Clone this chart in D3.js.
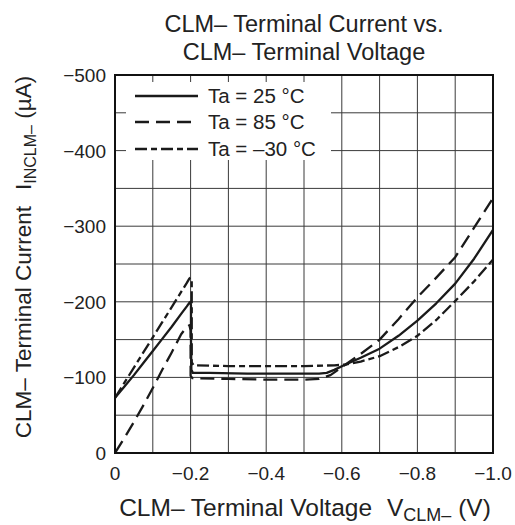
<!DOCTYPE html>
<html><head><meta charset="utf-8">
<script src="https://cdn.jsdelivr.net/npm/d3@7"></script>
<style>
html,body{margin:0;padding:0;background:#fff;}
svg{display:block;font-family:"Liberation Sans",Arial,Helvetica,sans-serif;}
</style></head>
<body>
<svg id="chart" width="515" height="525"></svg>
<script>
// ---- data (V in volts, I in µA) ----
const ta25V = [0,-0.025,-0.05,-0.075,-0.1,-0.125,-0.15,-0.175,-0.19,-0.197,-0.2,-0.201,-0.201,-0.202,-0.206,-0.25,-0.35,-0.45,-0.54,-0.56,-0.58,-0.61,-0.65,-0.7,-0.75,-0.8,-0.85,-0.9,-0.95,-1.0];
const ta25I = [-73,-88,-103,-119,-135,-151,-167,-184,-194,-199,-200,-195,-150,-110,-106,-106,-105,-105,-105,-106,-110,-117,-126,-138,-155,-175,-198,-224,-257,-295];

const ta85V = [0,-0.025,-0.05,-0.075,-0.1,-0.125,-0.15,-0.175,-0.19,-0.197,-0.2,-0.2,-0.205,-0.3,-0.4,-0.5,-0.54,-0.57,-0.61,-0.65,-0.7,-0.75,-0.8,-0.85,-0.9,-0.95,-1.0];
const ta85I = [0,-20,-41,-63,-86,-110,-133,-157,-167,-169,-162,-102,-99,-98,-97,-97,-98,-103,-117,-131,-150,-177,-206,-232,-259,-298,-337];

const taM30V = [0,-0.025,-0.05,-0.075,-0.1,-0.125,-0.15,-0.175,-0.19,-0.197,-0.2,-0.203,-0.203,-0.203,-0.208,-0.3,-0.4,-0.5,-0.58,-0.61,-0.65,-0.7,-0.75,-0.8,-0.85,-0.9,-0.95,-1.0];
const taM30I = [-73,-93,-113,-133,-153,-173,-193,-213,-225,-231,-232,-228,-200,-120,-116,-115,-115,-115,-116,-117,-121,-128,-140,-155,-176,-201,-227,-256];

const xTicks = [0,-0.2,-0.4,-0.6,-0.8,-1.0];
const xTickLabels = ["0","\u22120.2","\u22120.4","\u22120.6","\u22120.8","\u22121.0"];
const yTicks = [0,-100,-200,-300,-400,-500];
const yTickLabels = ["0","\u2212100","\u2212200","\u2212300","\u2212400","\u2212500"];
const xGrid = [-0.1,-0.2,-0.3,-0.4,-0.5,-0.6,-0.7,-0.8,-0.9];
const yGrid = [-50,-100,-150,-200,-250,-300,-350,-400,-450];
const legendLabels = ["Ta = 25 \u00B0C","Ta = 85 \u00B0C","Ta = \u201330 \u00B0C"];

// ---- layout ----
const L = 115, R = 493, T = 75, B = 453;
const svg = d3.select("#chart");
const x = d3.scaleLinear().domain([0,-1]).range([L,R]);
const y = d3.scaleLinear().domain([0,-500]).range([B,T]);

// grid
const g = svg.append("g");
g.selectAll(".gx").data(xGrid).join("line")
  .attr("x1",d=>x(d)).attr("x2",d=>x(d)).attr("y1",T).attr("y2",B)
  .attr("stroke","#3a3a3a").attr("stroke-width",1);
g.selectAll(".gy").data(yGrid).join("line")
  .attr("y1",d=>y(d)).attr("y2",d=>y(d)).attr("x1",L).attr("x2",R)
  .attr("stroke","#3a3a3a").attr("stroke-width",1);

// legend background (covers grid)
svg.append("rect").attr("x",126).attr("y",82).attr("width",205).attr("height",78).attr("fill","#fff");

// curves
const line = d3.line().x(d=>x(d[0])).y(d=>y(d[1]));
const series = [
  {v:ta25V, i:ta25I, dash:null},
  {v:ta85V, i:ta85I, dash:"14,7"},
  {v:taM30V, i:taM30I, dash:"12,4,6,4"}
];
svg.append("clipPath").attr("id","clip").append("rect")
  .attr("x",L).attr("y",T).attr("width",R-L).attr("height",B-T);
series.forEach(s=>{
  const pts = s.v.map((v,k)=>[v,s.i[k]]);
  svg.append("path").attr("d",line(pts)).attr("fill","none")
    .attr("stroke","#1a1a1a").attr("stroke-width",2.3)
    .attr("stroke-linejoin","round")
    .attr("stroke-dasharray",s.dash).attr("clip-path","url(#clip)");
});

// frame
svg.append("rect").attr("x",L).attr("y",T).attr("width",R-L).attr("height",B-T)
  .attr("fill","none").attr("stroke","#111").attr("stroke-width",2);

// legend
const lg = svg.append("g");
const legY = [96,122,149];
series.forEach((s,k)=>{
  lg.append("line").attr("x1",135).attr("x2",198).attr("y1",legY[k]).attr("y2",legY[k])
    .attr("stroke","#1a1a1a").attr("stroke-width",2.3).attr("stroke-dasharray",s.dash);
  lg.append("text").attr("x",208).attr("y",legY[k]+7).attr("font-size",20.5)
    .attr("fill","#222").text(legendLabels[k]);
});

// tick labels
svg.selectAll(".xt").data(xTicks).join("text")
  .attr("x",d=>x(d)).attr("y",480).attr("text-anchor","middle")
  .attr("font-size",19).attr("fill","#222").text((d,k)=>xTickLabels[k]);
svg.selectAll(".yt").data(yTicks).join("text")
  .attr("x",106).attr("y",d=>y(d)+7).attr("text-anchor","end")
  .attr("font-size",19).attr("fill","#222").text((d,k)=>yTickLabels[k]);

// title
svg.append("text").attr("x",304).attr("y",32).attr("text-anchor","middle")
  .attr("font-size",23.5).attr("fill","#222").text("CLM\u2013 Terminal Current vs.");
svg.append("text").attr("x",304).attr("y",60).attr("text-anchor","middle")
  .attr("font-size",23.5).attr("fill","#222").text("CLM\u2013 Terminal Voltage");

// x axis label
const xl = svg.append("text").attr("x",305).attr("y",516).attr("text-anchor","middle")
  .attr("font-size",24.5).attr("fill","#222");
xl.append("tspan").text("CLM\u2013 Terminal Voltage");
xl.append("tspan").attr("dx",15).text("V");
xl.append("tspan").attr("font-size",18).attr("dy",5).text("CLM\u2013");
xl.append("tspan").attr("dy",-5).text(" (V)");

// y axis label
const yl = svg.append("text").attr("transform","translate(31,257) rotate(-90)")
  .attr("text-anchor","middle").attr("font-size",22.5).attr("fill","#222");
yl.append("tspan").text("CLM\u2013 Terminal Current");
yl.append("tspan").attr("dx",16).text("I");
yl.append("tspan").attr("font-size",16).attr("dy",5).text("INCLM\u2013");
yl.append("tspan").attr("dy",-5).text(" (\u00B5A)");
</script>
</body></html>
